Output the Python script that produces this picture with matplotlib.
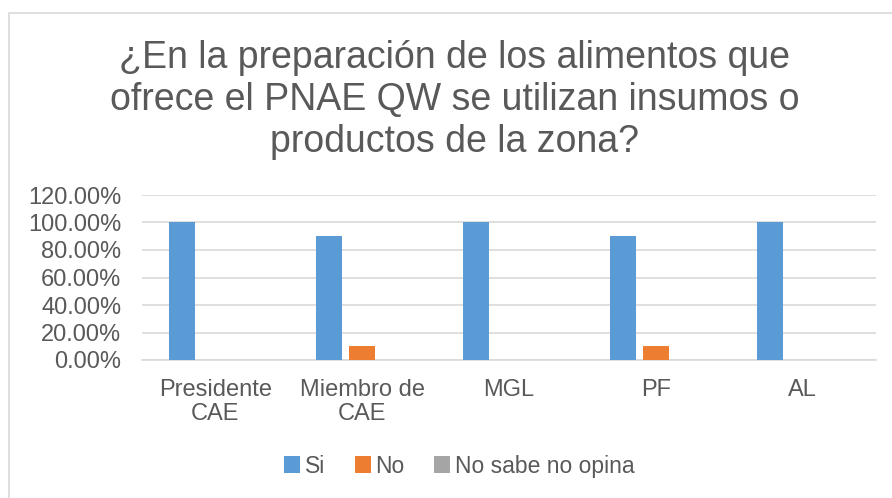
import matplotlib.pyplot as plt
import numpy as np
from matplotlib.patches import Rectangle

plt.rcParams['font.family'] = ['Liberation Sans', 'DejaVu Sans']

categorias = ["Presidente\nCAE", "Miembro de\nCAE", "MGL", "PF", "AL"]
si = [1.00, 0.90, 1.00, 0.90, 1.00]
no = [0.00, 0.10, 0.00, 0.10, 0.00]
no_sabe = [0.00, 0.00, 0.00, 0.00, 0.00]
series = ["Si", "No", "No sabe no opina"]
colores = ["#5B9BD5", "#ED7D31", "#A5A5A5"]
yticks = [0, 0.2, 0.4, 0.6, 0.8, 1.0, 1.2]

texto = "#595959"
W, H = 892, 498
fig = plt.figure(figsize=(W / 100, H / 100), dpi=100)

# marco del grafico (sigue fuera de la imagen a la derecha y abajo)
fig.patches.append(Rectangle((9 / W, -0.1), 1.2, 1.1 - 13 / H, transform=fig.transFigure,
                             fill=False, edgecolor="#D9D9D9", linewidth=1.2))

ax = fig.add_axes([142 / W, 1 - 360 / H, (876 - 142) / W, (360 - 195) / H])

x = np.arange(len(categorias))
ancho = 0.177
paso = 0.225
for i, (vals, nombre) in enumerate(zip([si, no, no_sabe], series)):
    ax.bar(x + (i - 1) * paso, vals, width=ancho, color=colores[i], label=nombre, zorder=3)

ax.set_xlim(-0.5, len(categorias) - 0.5)
ax.set_ylim(0, 1.2)
ax.set_yticks(yticks)
ax.set_yticklabels([f"{v * 100:.2f}%" for v in yticks], fontsize=17, color=texto)
ax.set_xticks(x)
ax.set_xticklabels(categorias, fontsize=17, color=texto, linespacing=1.1)
ax.tick_params(axis="both", length=0)
ax.tick_params(axis="x", pad=14)
ax.tick_params(axis="y", pad=15)
ax.grid(axis="y", color="#D9D9D9", linewidth=1.2, zorder=0)
for s in ["top", "right", "left"]:
    ax.spines[s].set_visible(False)
ax.spines["bottom"].set_color("#D9D9D9")
ax.spines["bottom"].set_linewidth(1.2)

fig.text(0.51, 1 - 100 / H,
         "¿En la preparación de los alimentos que\nofrece el PNAE QW se utilizan insumos o\nproductos de la zona?",
         ha="center", va="center", fontsize=27, color=texto, linespacing=1.22)

fig.legend(loc="center", bbox_to_anchor=(0.515, 1 - 466 / H), ncol=3, frameon=False,
           fontsize=16.5, labelcolor=texto, handlelength=0.7, handleheight=0.7,
           handletextpad=0.2, columnspacing=1.3)

fig.savefig("out.png", dpi=100)
